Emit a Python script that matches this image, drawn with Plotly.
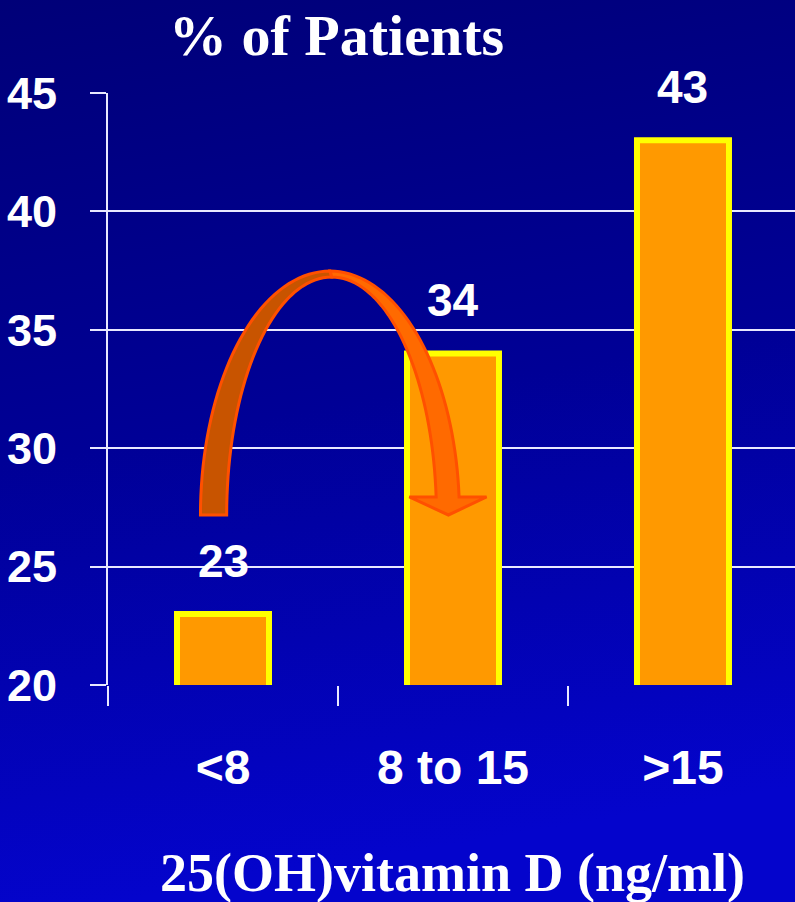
import base64
import numpy as np
import plotly.graph_objects as go

# ---- data ----
categories = ["<8", "8 to 15", ">15"]
values = [23, 34, 43]
y_ticks = [20, 25, 30, 35, 40, 45]
title_text = "% of Patients"
x_title_text = "25(OH)vitamin D (ng/ml)"

# ---- layout constants ----
W, H = 795, 902
L, R, T, B = 108, 0, 93, 217
XR = [-0.5, 2.487]
YR = [20, 45]

SANS = "Liberation Sans, Arial, sans-serif"
SERIF = "Liberation Serif, Times New Roman, serif"

def xf(x):
    return (x - XR[0]) / (XR[1] - XR[0])

def yf(y):
    return (y - YR[0]) / (YR[1] - YR[0])

# gradient background as inline svg
svg = (
    '<svg xmlns="http://www.w3.org/2000/svg" width="795" height="902">'
    '<defs><linearGradient id="g" x1="0" y1="0" x2="0.15" y2="1">'
    '<stop offset="0" stop-color="#000078"/>'
    '<stop offset="0.5" stop-color="#000096"/>'
    '<stop offset="1" stop-color="#0404cc"/>'
    '</linearGradient></defs>'
    '<rect width="795" height="902" fill="url(#g)"/></svg>'
)
bg_uri = "data:image/svg+xml;base64," + base64.b64encode(svg.encode()).decode()

fig = go.Figure()
fig.add_trace(go.Bar(
    x=categories, y=values,
    base=0,
    marker=dict(color="#FF9900", line=dict(color="#FFFF00", width=6)),
    width=0.4,
    hoverinfo="skip",
))

# value labels
annotations = []
for c, v in zip(categories, values):
    annotations.append(dict(
        x=c, y=v, xref="x", yref="y", text="<b>" + str(v) + "</b>", showarrow=False,
        yanchor="middle", yshift=53,
        font=dict(family=SANS, size=46, color="white"),
    ))

annotations.append(dict(
    x=0.333, y=yf(YR[1]) + 0.097, xref="paper", yref="paper",
    text="<b>" + title_text + "</b>", showarrow=False,
    xanchor="center", yanchor="middle",
    font=dict(family=SERIF, size=58, color="white"),
))
annotations.append(dict(
    x=xf(1.0) - 0.001, y=-0.318, xref="paper", yref="paper",
    text="<b>" + x_title_text + "</b>", showarrow=False,
    xanchor="center", yanchor="middle",
    font=dict(family=SERIF, size=54, color="white"),
))

# ---- curved arrow decoration (data units, converted to paper) ----
def ell(cx, cy, a, b, t):
    return cx + a * np.cos(t), cy + b * np.sin(t)

o_c, o_cy, o_a, o_b = 0.465, 27.18, 0.563, 10.30
i_c, i_a, i_b = 0.472, 0.456, 10.05
y_end_right = 27.94

def pts_to_path(pts):
    return "M " + " L ".join(f"{xf(x):.5f},{yf(y):.5f}" for x, y in pts) + " Z"

def t_for_y(cy, b, y):
    return np.arcsin(min(1.0, (y - cy) / b))

n = 40
t_left = np.linspace(np.pi, np.pi / 2, n)
outer_left = [ell(o_c, o_cy, o_a, o_b, t) for t in t_left]
inner_left = [ell(i_c, o_cy, i_a, i_b, t) for t in t_left[::-1]]
left_pts = outer_left + inner_left

t_o_end = t_for_y(o_cy, o_b, y_end_right)
t_i_end = t_for_y(o_cy, i_b, y_end_right)
t_ro = np.linspace(np.pi / 2, t_o_end, n)
t_ri = np.linspace(t_i_end, np.pi / 2, n)
outer_right = [ell(o_c, o_cy, o_a, o_b, t) for t in t_ro]
inner_right = [ell(i_c, o_cy, i_a, i_b, t) for t in t_ri]
head = [(1.146, y_end_right), (0.98, 27.18), (0.81, y_end_right)]
right_pts = outer_right + head + inner_right

shapes = [
    dict(type="path", xref="paper", yref="paper", path=pts_to_path(right_pts),
         fillcolor="#FF6A00", line=dict(color="#FF5000", width=3), layer="above"),
    dict(type="path", xref="paper", yref="paper", path=pts_to_path(left_pts),
         fillcolor="#C85400", line=dict(color="#FF5000", width=3), layer="above"),
]

fig.update_layout(
    width=W, height=H,
    margin=dict(l=L, r=R, t=T, b=B, pad=0),
    paper_bgcolor="#000090",
    plot_bgcolor="rgba(0,0,0,0)",
    showlegend=False,
    bargap=0.6,
    images=[dict(source=bg_uri, xref="paper", yref="paper", x=-L / (W - L - R),
                 y=1 + T / (H - T - B), sizex=W / (W - L - R), sizey=H / (H - T - B),
                 sizing="stretch", xanchor="left", yanchor="top", layer="below")],
    annotations=annotations,
    shapes=shapes,
    xaxis=dict(
        type="category", range=XR, showgrid=False, zeroline=False,
        showline=False, tickson="boundaries", ticks="outside", ticklen=20,
        tickwidth=2, tickcolor="#E8E8FF", ticklabelstandoff=50,
        tickfont=dict(family=SANS, size=48, color="white", weight="bold"),
    ),
    yaxis=dict(
        range=YR, tickvals=y_ticks, showgrid=True, gridcolor="#E8E8FF",
        gridwidth=2, zeroline=False, showline=True, linecolor="#E8E8FF",
        linewidth=2, ticks="outside", ticklen=16, tickwidth=2,
        tickcolor="#E8E8FF", ticklabelstandoff=24,
        tickfont=dict(family=SANS, size=45, color="white", weight="bold"),
    ),
)

fig.write_html("out.html")
